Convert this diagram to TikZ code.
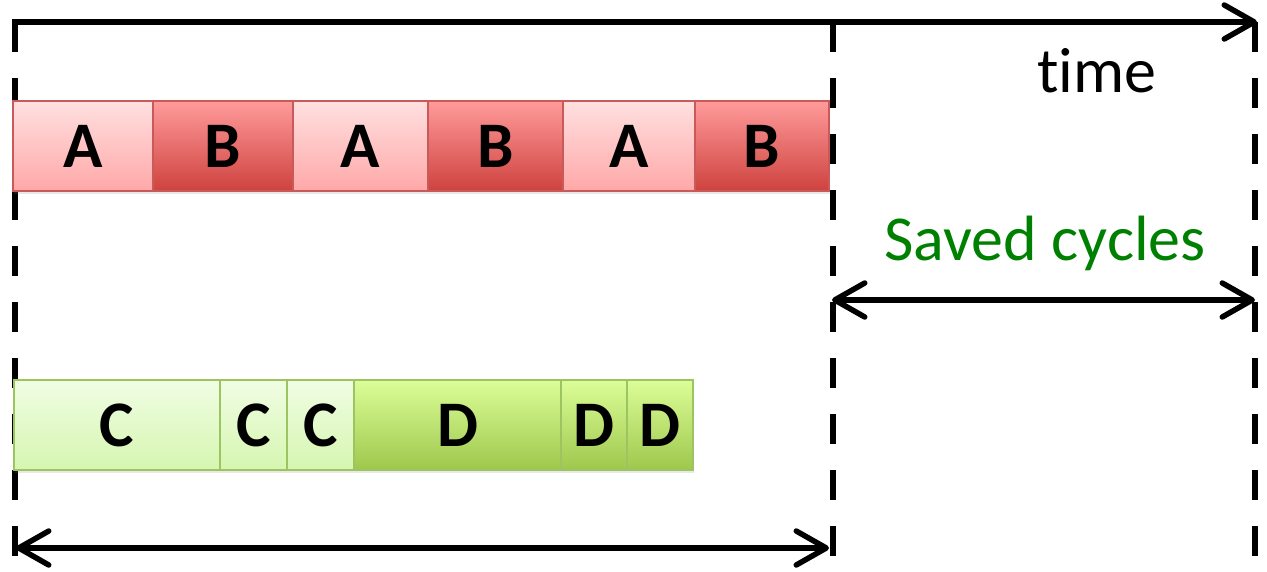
\documentclass[tikz,border=0pt]{standalone}
\usepackage{fontspec}
\setmainfont{Carlito}[Ligatures=NoCommon]
\usetikzlibrary{arrows.meta,shadows}

\definecolor{aTop}{RGB}{255,224,224}
\definecolor{aBot}{RGB}{255,168,168}
\definecolor{bTop}{RGB}{255,155,155}
\definecolor{bBot}{RGB}{206,66,62}
\definecolor{redEdge}{RGB}{200,90,90}
\definecolor{cTop}{RGB}{240,253,228}
\definecolor{cBot}{RGB}{214,246,176}
\definecolor{dTop}{RGB}{220,253,152}
\definecolor{dBot}{RGB}{158,200,76}
\definecolor{greenEdge}{RGB}{156,196,96}
\definecolor{savedGreen}{RGB}{0,128,0}

\tikzset{
  slot/.style={rectangle, inner sep=0pt, minimum height=90pt, line width=1.2pt,
    font=\fontsize{65}{65}\selectfont\bfseries, text=black,
    drop shadow={opacity=0.18, shadow xshift=1pt, shadow yshift=-2.5pt}},
  aslot/.style={slot, draw=redEdge, top color=aTop, bottom color=aBot},
  bslot/.style={slot, draw=redEdge, top color=bTop, bottom color=bBot},
  cslot/.style={slot, draw=greenEdge, top color=cTop, bottom color=cBot},
  dslot/.style={slot, draw=greenEdge, top color=dTop, bottom color=dBot},
  guide/.style={line width=5.5pt, line cap=butt, dash pattern=on 30pt off 26pt},
  span/.style={line width=5.5pt, line cap=round,
    arrows={Straight Barb[length=30pt, width=34pt, round]-Straight Barb[length=30pt, width=34pt, round]}},
  axis/.style={line width=5.5pt, line cap=butt,
    -{Straight Barb[length=30pt, width=34pt, round]}},
  caption/.style={anchor=base, inner sep=0pt, font=\fontsize{64}{64}\selectfont}
}

\begin{document}
\begin{tikzpicture}[x=1pt, y=-1pt]
  \useasboundingbox (0,0) rectangle (1267,571);

  % time axis and its vertical guides
  \coordinate (lTop) at (15,22);
  \coordinate (lBot) at (15,557);
  \coordinate (mTop) at (833,22);
  \coordinate (mBot) at (833,557);
  \coordinate (rTop) at (1255,22);
  \coordinate (rBot) at (1255,557);
  \coordinate (axStart) at (12.25,22);
  \coordinate (axEnd) at (1257,22);

  \draw[guide] (lTop) -- (lBot);
  \draw[guide] (mTop) -- (mBot);
  \draw[guide] (rTop) -- (rBot);
  \draw[axis] (axStart) -- (axEnd);

  \node[caption] (time) at (1097,92) {time};

  % first schedule: alternating A and B
  \node[aslot, minimum width=140pt] (a1) at (83,146) {A};
  \node[bslot, minimum width=140pt] (b1) at (223,146) {B};
  \node[aslot, minimum width=135pt] (a2) at (360.5,146) {A};
  \node[bslot, minimum width=135pt] (b2) at (495.5,146) {B};
  \node[aslot, minimum width=132pt] (a3) at (629,146) {A};
  \node[bslot, minimum width=134pt] (b3) at (762,146) {B};

  % second schedule: C and D grouped
  \node[cslot, minimum width=206pt] (c1) at (117,425) {C};
  \node[cslot, minimum width=67pt] (c2) at (253.5,425) {C};
  \node[cslot, minimum width=67pt] (c3) at (320.5,425) {C};
  \node[dslot, minimum width=207pt] (d1) at (457.5,425) {D};
  \node[dslot, minimum width=66pt] (d2) at (594,425) {D};
  \node[dslot, minimum width=66pt] (d3) at (660,425) {D};

  % saved cycles span
  \node[caption, text=savedGreen] (saved) at (1045,260) {Saved cycles};
  \coordinate (sL) at (832,300);
  \coordinate (sR) at (1255,300);
  \draw[span] (sL) -- (sR);

  % span of the first schedule
  \coordinate (bL) at (16,548);
  \coordinate (bR) at (829,548);
  \draw[span] (bL) -- (bR);
\end{tikzpicture}
\end{document}
